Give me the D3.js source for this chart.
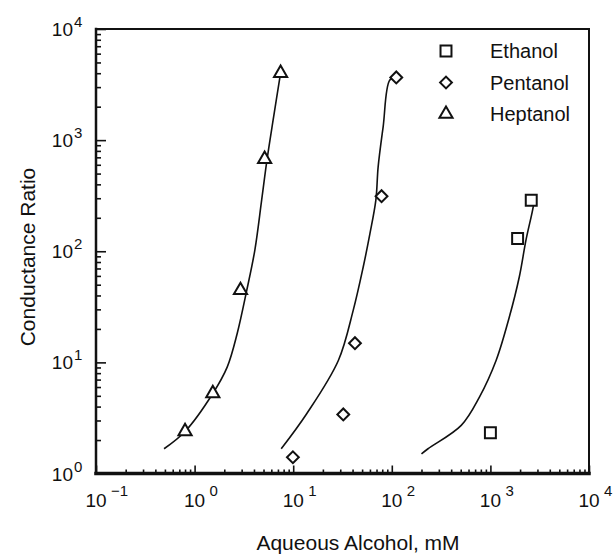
<!DOCTYPE html>
<html>
<head>
<meta charset="utf-8">
<script src="https://cdn.jsdelivr.net/npm/d3@7"></script>
<style>
  body { margin: 0; background: #fff; }
  text { font-family: "Liberation Sans", Arial, Helvetica, sans-serif; fill: #111; }
</style>
</head>
<body>
<svg id="chart"></svg>
<script>
// measured points
const ethanolX = [1000, 1888, 2596];
const ethanolY = [2.33, 130, 288];
const pentanolX = [9.93, 32.2, 42.3, 78.7, 111];
const pentanolY = [1.40, 3.40, 14.9, 313, 3670];
const heptanolX = [0.80, 1.53, 2.92, 5.13, 7.45];
const heptanolY = [2.39, 5.25, 44.5, 675, 4000];

// fitted curves
const ethanolFitX = [200, 233, 506, 774, 1142, 1556, 1963, 2295, 2718, 2782];
const ethanolFitY = [1.50, 1.67, 2.71, 4.87, 10.4, 25.6, 58.7, 126, 251, 300];
const pentanolFitX = [7.56, 13.7, 28.7, 40.6, 51.3, 60.0, 68.9, 72.7, 81.7, 95.5, 111];
const pentanolFitY = [1.67, 3.45, 10.4, 29.4, 72.2, 144, 288, 575, 1318, 3473, 3670];
const heptanolFitX = [0.49, 0.80, 1.53, 2.14, 2.70, 3.38, 4.08, 4.79, 5.44, 6.33, 7.39];
const heptanolFitY = [1.67, 2.39, 5.25, 9.07, 18.1, 44.5, 102, 290, 677, 1618, 3850];

const xDecades = [-1, 0, 1, 2, 3, 4];
const yDecades = [0, 1, 2, 3, 4];
const legendNames = ["Ethanol", "Pentanol", "Heptanol"];

const width = 613, height = 554;
const margin = {top: 29, left: 96, bottom: 80.5, right: 24};
const x0 = margin.left, x1 = width - margin.right;
const y0 = margin.top, y1 = height - margin.bottom;

const svg = d3.select("#chart").attr("width", width).attr("height", height);

const x = d3.scaleLog().domain([0.1, 1e4]).range([x0, x1]);
const y = d3.scaleLog().domain([1, 1e4]).range([y1, y0]);

const xMajor = xDecades.map(e => Math.pow(10, e));
const yMajor = yDecades.map(e => Math.pow(10, e));
const xMinor = x.ticks().filter(v => !xMajor.some(m => Math.abs(m - v) / m < 1e-6));
const yMinor = y.ticks().filter(v => !yMajor.some(m => Math.abs(m - v) / m < 1e-6));

// ticks pointing inward
const addAxis = (axis, tr) => {
  const g = svg.append("g").attr("transform", tr).call(axis);
  g.select(".domain").remove();
  g.selectAll("line").attr("stroke", "#111").attr("stroke-width", 1.6);
  return g;
};
addAxis(d3.axisBottom(x).tickValues(xMinor).tickSize(-4).tickFormat(""), `translate(0,${y1})`);
addAxis(d3.axisBottom(x).tickValues(xMajor).tickSize(-8).tickFormat(""), `translate(0,${y1})`);
addAxis(d3.axisLeft(y).tickValues(yMinor).tickSize(-5).tickFormat(""), `translate(${x0},0)`);
addAxis(d3.axisLeft(y).tickValues(yMajor).tickSize(-10).tickFormat(""), `translate(${x0},0)`);

// frame
const frame = svg.append("g").attr("stroke", "#111").attr("stroke-linecap", "square");
frame.append("line").attr("x1", x0).attr("x2", x1).attr("y1", y1).attr("y2", y1).attr("stroke-width", 3.5);
frame.append("line").attr("x1", x0).attr("x2", x0).attr("y1", y0).attr("y2", y1).attr("stroke-width", 2.5);
frame.append("line").attr("x1", x0).attr("x2", x1).attr("y1", y0).attr("y2", y0).attr("stroke-width", 2);
frame.append("line").attr("x1", x1).attr("x2", x1).attr("y1", y0).attr("y2", y1).attr("stroke-width", 2);

// tick labels: 10 with superscript exponent
const expText = e => (e < 0 ? "\u2212" + Math.abs(e) : "" + e);

xDecades.forEach(e => {
  const px = x(Math.pow(10, e));
  svg.append("text").attr("x", px).attr("y", y1 + 33).attr("text-anchor", "middle")
    .style("font-size", "19px").text("10");
  svg.append("text").attr("x", px + 15).attr("y", y1 + 22)
    .style("font-size", "15px").text(expText(e));
});

yDecades.forEach(e => {
  const py = y(Math.pow(10, e));
  svg.append("text").attr("x", 73).attr("y", py + 7).attr("text-anchor", "end")
    .style("font-size", "19px").text("10");
  svg.append("text").attr("x", 74).attr("y", py - 2)
    .style("font-size", "15px").text(expText(e));
});

// axis titles
svg.append("text").attr("x", 358).attr("y", 550).attr("text-anchor", "middle")
  .style("font-size", "21px").text("Aqueous Alcohol, mM");
svg.append("text").attr("transform", `translate(35,257) rotate(-90)`).attr("text-anchor", "middle")
  .style("font-size", "21px").text("Conductance Ratio");

// curves
const line = d3.line().x(d => x(d[0])).y(d => y(d[1])).curve(d3.curveCatmullRom.alpha(0.5));
const curves = [
  d3.zip(ethanolFitX, ethanolFitY),
  d3.zip(pentanolFitX, pentanolFitY),
  d3.zip(heptanolFitX, heptanolFitY)
];
svg.append("g").selectAll("path").data(curves).enter().append("path")
  .attr("d", line).attr("fill", "none").attr("stroke", "#111").attr("stroke-width", 1.6);

// markers
const symbols = [d3.symbolSquare, d3.symbolSquare, d3.symbolTriangle];
const sizes = [120, 70, 75];
const rot = [0, 45, 0];
const series = [
  d3.zip(ethanolX, ethanolY),
  d3.zip(pentanolX, pentanolY),
  d3.zip(heptanolX, heptanolY)
];
const sym = i => d3.symbol().type(symbols[i]).size(sizes[i])();
series.forEach((pts, i) => {
  svg.append("g").selectAll("path").data(pts).enter().append("path")
    .attr("d", sym(i))
    .attr("transform", d => `translate(${x(d[0])},${y(d[1])}) rotate(${rot[i]})`)
    .attr("fill", "#fff").attr("stroke", "#111").attr("stroke-width", 2);
});

// legend
const legend = svg.append("g");
legendNames.forEach((name, i) => {
  const ly = 51 + i * 31.5;
  legend.append("path").attr("d", sym(i))
    .attr("transform", `translate(446,${ly}) rotate(${rot[i]})`)
    .attr("fill", "#fff").attr("stroke", "#111").attr("stroke-width", 2);
  legend.append("text").attr("x", 490).attr("y", ly + 7).style("font-size", "20px").text(name);
});
</script>
</body>
</html>
